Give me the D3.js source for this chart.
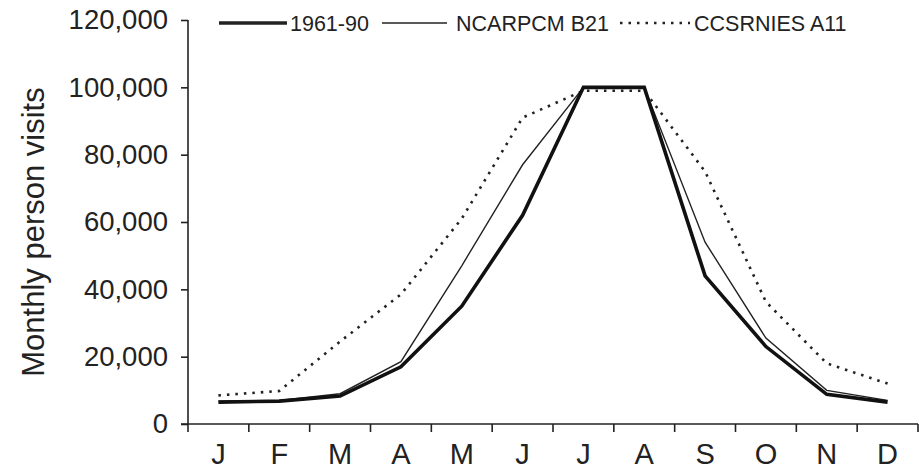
<!DOCTYPE html>
<html><head><meta charset="utf-8">
<script src="https://cdn.jsdelivr.net/npm/d3@7"></script>
<style>body{margin:0;background:#fff}svg{display:block}text{font-family:"Liberation Sans",Arial,sans-serif;fill:#222}</style>
</head><body><svg id="c" width="919" height="470"></svg>
<script>
const months = ["J","F","M","A","M","J","J","A","S","O","N","D"];
const baseline = [6500,6800,8300,17000,35000,62000,100000,100000,44000,23000,8800,6500];
const ncarpcm = [6800,7000,9000,18500,47000,77000,100000,100000,54000,25500,10000,7000];
const ccsrnies = [8500,9800,24500,38500,61000,91000,99000,99000,75000,36300,18000,12000];
const yTicks = [0,20000,40000,60000,80000,100000,120000];
const seriesNames = ["1961-90","NCARPCM B21","CCSRNIES A11"];

const svg = d3.select("#c");
const x = d3.scaleBand().domain(d3.range(12)).range([188,918]);
const y = d3.scaleLinear().domain([0,120000]).range([424,20]);

// y axis
const ya = svg.append("g").attr("transform","translate(188,0)")
  .call(d3.axisLeft(y).tickValues(yTicks).tickSize(7).tickPadding(13).tickFormat(d3.format(",")));
ya.selectAll("text").style("font-size","27.5px").attr("fill","#222");
ya.selectAll("line,path").attr("stroke","#222").attr("stroke-width",1.6);
ya.select("path").attr("d","M0,20V424");

// x axis
const xa = svg.append("g").attr("transform","translate(0,424)");
xa.append("line").attr("x1",181).attr("x2",918).attr("stroke","#222").attr("stroke-width",1.6);
const tickPos = d3.range(13).map(i => 188 + i*x.step());
xa.selectAll("line.t").data(tickPos).join("line").attr("class","t")
  .attr("x1",d=>d).attr("x2",d=>d).attr("y1",0).attr("y2",8).attr("stroke","#222").attr("stroke-width",1.6);
xa.selectAll("text").data(months).join("text")
  .attr("x",(d,i)=>x(i)+x.bandwidth()/2).attr("y",40).attr("text-anchor","middle")
  .style("font-size","29px").text(d=>d);

// y label
svg.append("text").attr("transform","translate(44,232) rotate(-90)").attr("text-anchor","middle")
  .style("font-size","31px").text("Monthly person visits");

const line = d3.line().x((d,i)=>x(i)+x.bandwidth()/2).y(d=>y(d));
svg.append("path").datum(ccsrnies).attr("d",line).attr("fill","none").attr("stroke","#222")
  .attr("stroke-width",2.6).attr("stroke-dasharray","2.5,6");
svg.append("path").datum(ncarpcm).attr("d",line).attr("fill","none").attr("stroke","#222").attr("stroke-width",1.4);
svg.append("path").datum(baseline).attr("d",line).attr("fill","none").attr("stroke","#111").attr("stroke-width",3.6);

// legend
const leg = svg.append("g");
const items = [
  {x1:219,x2:287,tx:290,w:3.6,dash:null},
  {x1:382,x2:447,tx:456,w:1.4,dash:null},
  {x1:620,x2:690,tx:694,w:2.6,dash:"2.5,6"}
];
items.forEach((it,i)=>{
  const l = leg.append("line").attr("x1",it.x1).attr("x2",it.x2).attr("y1",23).attr("y2",23)
    .attr("stroke","#222").attr("stroke-width",it.w);
  if(it.dash) l.attr("stroke-dasharray",it.dash);
  leg.append("text").attr("x",it.tx).attr("y",31).style("font-size","21.5px").text(seriesNames[i]);
});
</script></body></html>
